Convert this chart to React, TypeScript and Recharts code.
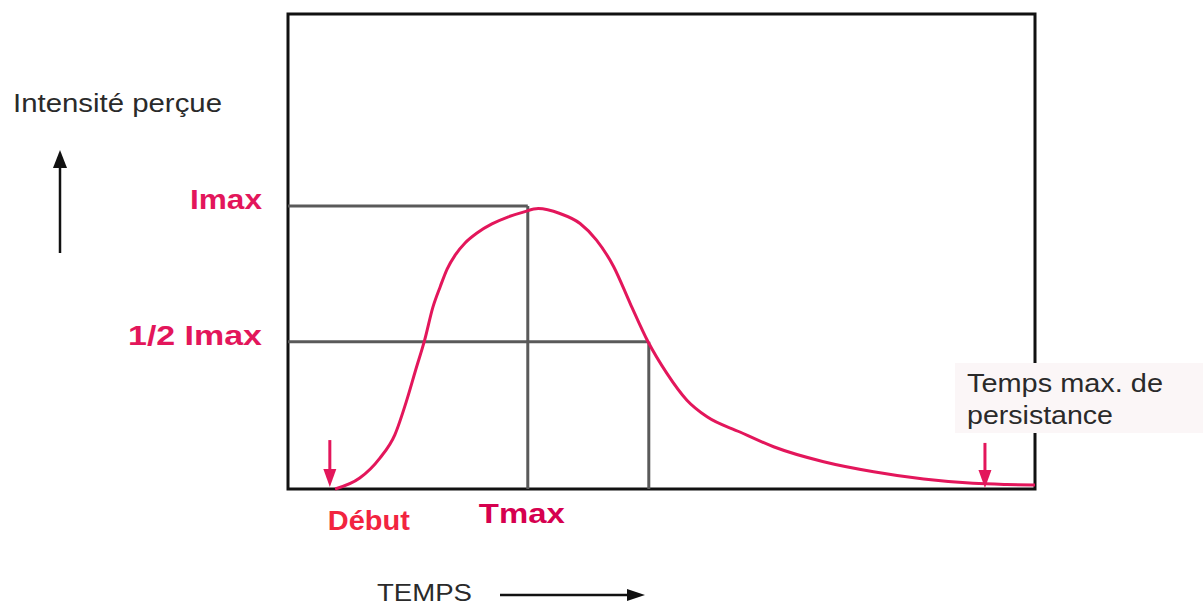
import { Line, LineChart, ReferenceArea, ReferenceLine, XAxis, YAxis } from "recharts"

// perceived intensity curve (time 0-100, intensity 0-100)
const curveTime = [
  6.3, 9.6, 12.3, 14.3, 15.9, 17.1, 18.3, 19.4, 20.4, 21.3, 22.4, 23.7, 25.3, 27.3, 29.5,
  31.5, 33.5, 36.4, 39.1, 41.3, 43.6, 45.8, 48.2, 50.7, 53.4, 56.1, 60.5, 65.0, 71.7, 78.4,
  85.1, 91.7, 96.2, 100,
]
const curveIntensity = [
  0, 2.3, 6.5, 11.4, 18.7, 25.1, 31.4, 38.3, 42.7, 46.3, 49.3, 51.8, 53.9, 55.8, 57.3,
  58.3, 59.05, 58.0, 55.9, 52.4, 46.8, 39.1, 31.0, 24.4, 18.7, 15.2, 12.0, 8.9, 5.75, 3.64,
  2.1, 1.2, 0.95, 0.84,
]

const levelValues = [31.0, 59.6]
const levelLabels = ["1/2 Imax", "Imax"]

const timeMarks = [5.6, 32.1]
const timeLabels = ["Début", "Tmax"]

const tmax = 32.1
const halfTime = 48.3
const persistTime = 93.3
const arrowTop = [10.3, 9.7]

const data = curveTime.map((t, i) => ({ t, v: curveIntensity[i] }))

const PINK = "#e3165b"
const GRAY = "#5a5a5a"
const FONT = "'Liberation Sans', Arial, sans-serif"

const levelStyle = [
  { dy: 3.5, len: 134 },
  { dy: 3, len: 72 },
]
const timeStyle = [
  { dx: 39, y: 530, len: 82, fill: "#f2243f" },
  { dx: -6, y: 523, len: 86, fill: "#d6004f" },
]

function LevelTick(props: any) {
  const i = levelValues.indexOf(props.payload.value)
  if (i < 0) return null
  const s = levelStyle[i]
  return (
    <text
      x={262}
      y={props.y + s.dy}
      textAnchor="end"
      fontFamily={FONT}
      fontWeight="bold"
      fontSize={28}
      fill={PINK}
      textLength={s.len}
      lengthAdjust="spacingAndGlyphs"
    >
      {levelLabels[i]}
    </text>
  )
}

function TimeTick(props: any) {
  const i = timeMarks.indexOf(props.payload.value)
  if (i < 0) return null
  const s = timeStyle[i]
  return (
    <text
      x={props.x + s.dx}
      y={s.y}
      textAnchor="middle"
      fontFamily={FONT}
      fontWeight="bold"
      fontSize={28}
      fill={s.fill}
      textLength={s.len}
      lengthAdjust="spacingAndGlyphs"
    >
      {timeLabels[i]}
    </text>
  )
}

function DownArrow(props: any) {
  const { x1, y1, x2, y2 } = props
  if (x1 == null) return null
  const top = Math.min(y1, y2)
  const tip = Math.max(y1, y2)
  return (
    <g>
      <line x1={x1} y1={top} x2={x1} y2={tip - 12} stroke={PINK} strokeWidth={3} />
      <polygon points={`${x1 - 6.5},${tip - 18} ${x1 + 6.5},${tip - 18} ${x1},${tip}`} fill={PINK} />
    </g>
  )
}

function Overlay() {
  const txt = { fontFamily: FONT, fill: "#2a2a2a", lengthAdjust: "spacingAndGlyphs" as const }
  return (
    <svg
      width={1203}
      height={606}
      style={{ position: "absolute", left: 0, top: 0, pointerEvents: "none" }}
    >
      <text x={13} y={112} fontSize={25} textLength={209} {...txt}>
        Intensité perçue
      </text>
      <line x1={60} y1={253} x2={60} y2={164} stroke="#111" strokeWidth={2.5} />
      <polygon points="53,168 67,168 60,150" fill="#111" />

      <text x={377} y={601} fontSize={23} textLength={95} {...txt}>
        TEMPS
      </text>
      <line x1={500} y1={595} x2={630} y2={595} stroke="#111" strokeWidth={2.5} />
      <polygon points="627,589 627,601 645,595" fill="#111" />

      <rect x={955} y={363} width={248} height={70} fill="#fbf6f7" />
      <text x={967} y={392} fontSize={25} textLength={196} {...txt}>
        Temps max. de
      </text>
      <text x={967} y={424} fontSize={25} textLength={146} {...txt}>
        persistance
      </text>
    </svg>
  )
}

export default function App() {
  return (
    <div style={{ position: "absolute", left: 0, top: 0, width: 1203, height: 606, background: "#fff" }}>
      <LineChart width={1203} height={606} data={data} margin={{ top: 14, right: 168, bottom: 17, left: 8 }}>
        <XAxis
          dataKey="t"
          type="number"
          domain={[0, 100]}
          ticks={timeMarks}
          interval={0}
          height={100}
          axisLine={false}
          tickLine={false}
          tick={(p: any) => <TimeTick {...p} />}
        />
        <YAxis
          type="number"
          domain={[0, 100]}
          ticks={levelValues}
          interval={0}
          width={280}
          axisLine={false}
          tickLine={false}
          tick={(p: any) => <LevelTick {...p} />}
        />
        <ReferenceArea x1={0} x2={100} y1={0} y2={100} fill="none" fillOpacity={0} stroke="#111" strokeWidth={3} ifOverflow="visible" />
        <ReferenceLine segment={[{ x: 0, y: levelValues[1] }, { x: tmax, y: levelValues[1] }]} stroke={GRAY} strokeWidth={3} ifOverflow="visible" />
        <ReferenceLine segment={[{ x: tmax, y: 0 }, { x: tmax, y: levelValues[1] }]} stroke={GRAY} strokeWidth={3} ifOverflow="visible" />
        <ReferenceLine segment={[{ x: 0, y: levelValues[0] }, { x: halfTime, y: levelValues[0] }]} stroke={GRAY} strokeWidth={3} ifOverflow="visible" />
        <ReferenceLine segment={[{ x: halfTime, y: 0 }, { x: halfTime, y: levelValues[0] }]} stroke={GRAY} strokeWidth={3} ifOverflow="visible" />
        <Line
          dataKey="v"
          type="monotone"
          stroke={PINK}
          strokeWidth={3}
          dot={false}
          activeDot={false}
          isAnimationActive={false}
        />
        <ReferenceLine
          segment={[{ x: timeMarks[0], y: arrowTop[0] }, { x: timeMarks[0], y: 0.4 }]}
          ifOverflow="visible"
          shape={(p: any) => <DownArrow {...p} />}
        />
        <ReferenceLine
          segment={[{ x: persistTime, y: arrowTop[1] }, { x: persistTime, y: 0.2 }]}
          ifOverflow="visible"
          shape={(p: any) => <DownArrow {...p} />}
        />
      </LineChart>
      <Overlay />
    </div>
  )
}
